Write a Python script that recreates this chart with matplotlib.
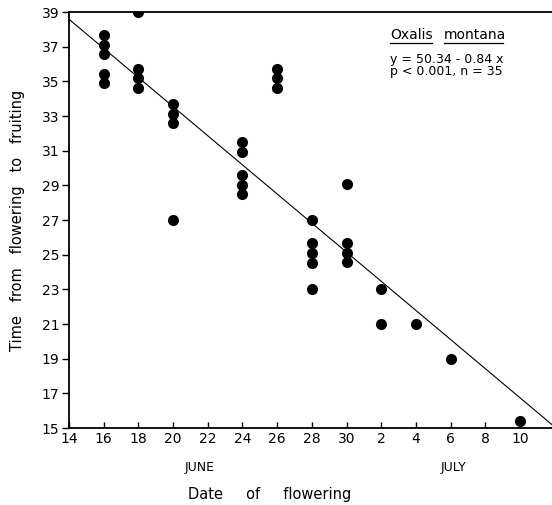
import matplotlib
matplotlib.use("Agg")
import matplotlib.pyplot as plt
import numpy as np

# Day numbers: June days as-is, July days as 30 + day
x_day = [16, 16, 16, 16, 16,
         18, 18, 18, 18,
         20, 20, 20, 20,
         24, 24, 24, 24, 24,
         26, 26, 26,
         28, 28, 28, 28, 28,
         30, 30, 30, 30,
         32, 32,
         34,
         36,
         40]
y_time = [37.7, 37.1, 36.6, 35.4, 34.9,
          39.0, 35.7, 35.2, 34.6,
          33.7, 33.1, 32.6, 27.0,
          31.5, 30.9, 29.6, 29.0, 28.5,
          35.7, 35.2, 34.6,
          27.0, 25.7, 25.1, 24.5, 23.0,
          29.1, 25.7, 25.1, 24.6,
          23.0, 21.0,
          21.0,
          19.0,
          15.4]
x_ticks = [14, 16, 18, 20, 22, 24, 26, 28, 30, 32, 34, 36, 38, 40]
x_tick_labels = ["14", "16", "18", "20", "22", "24", "26", "28", "30",
                 "2", "4", "6", "8", "10"]
y_ticks = [15, 17, 19, 21, 23, 25, 27, 29, 31, 33, 35, 37, 39]
intercept = 50.34
slope = -0.84

plt.rcParams['font.family'] = ['DejaVu Sans']
fig = plt.figure(figsize=(5.52, 5.05), dpi=100)
ax = fig.add_axes([69/552, 77/505, 483/552, 416/505])

ax.scatter(x_day, y_time, s=64, color='black', zorder=3, linewidths=0)
xl = np.array([14, 42.1])
ax.plot(xl, intercept + slope * xl, color='black', lw=0.8, zorder=2)

ax.set_xlim(14, 41.84)
ax.set_ylim(15, 39)
ax.set_xticks(x_ticks)
ax.set_xticklabels(x_tick_labels)
ax.set_yticks(y_ticks)
ax.spines['right'].set_visible(False)
for s in ['left', 'bottom', 'top']:
    ax.spines[s].set_linewidth(1.3)
ax.tick_params(axis='x', direction='in', length=4, width=1.0, labelsize=10, pad=3)
ax.tick_params(axis='y', direction='out', length=5, width=1.0, labelsize=10, pad=2)

ax.set_ylabel("Time   from   flowering   to   fruiting", fontsize=10.5, labelpad=12)
fig.text(270/552, 1 - 495/505, "Date     of     flowering", fontsize=10.5,
         ha='center', va='center')
fig.text(200/552, 1 - 467/505, "JUNE", fontsize=9, ha='center', va='center')
fig.text(453/552, 1 - 467/505, "JULY", fontsize=9, ha='center', va='center')

# Species annotation
fig.text(390/552, 1 - 35/505, "Oxalis", fontsize=10, ha='left', va='center')
fig.text(444/552, 1 - 35/505, "montana", fontsize=10, ha='left', va='center')
fig.add_artist(plt.Line2D([390/552, 432/552], [1 - 43/505, 1 - 43/505], color='black', lw=0.9))
fig.add_artist(plt.Line2D([444/552, 503/552], [1 - 43/505, 1 - 43/505], color='black', lw=0.9))
fig.text(390/552, 1 - 60/505, "y = 50.34 - 0.84 x", fontsize=9, ha='left', va='center')
fig.text(390/552, 1 - 72/505, "p < 0.001, n = 35", fontsize=9, ha='left', va='center')

fig.savefig("out.png", dpi=100)
